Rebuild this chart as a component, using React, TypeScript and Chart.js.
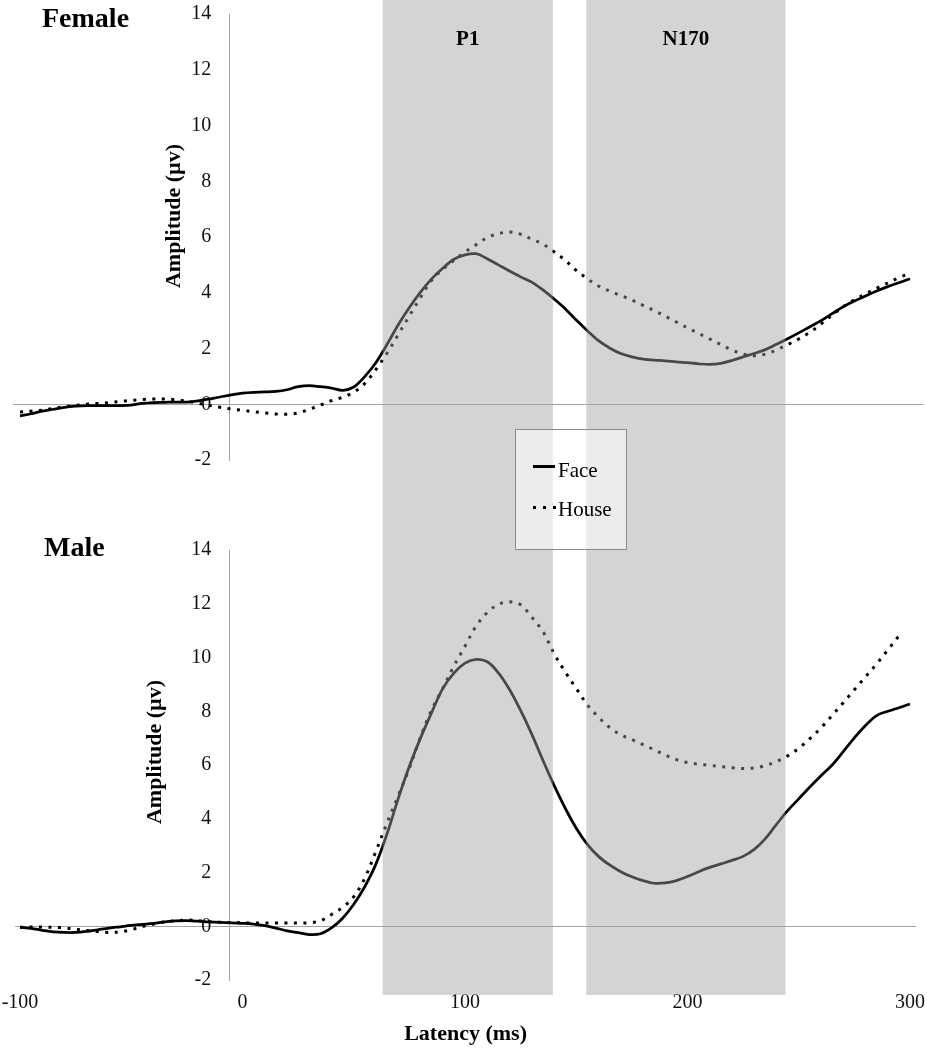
import React, { useEffect, useRef } from "react";
import { Chart, registerables } from "chart.js";

Chart.register(...registerables);

// ---------------- data ----------------
const LATENCY = [
  -100, -95, -90, -85, -80, -75, -70, -65, -60, -55,
  -50, -45, -40, -35, -30, -25, -20, -15, -10, -5,
  0, 5, 10, 15, 20, 25, 30, 35, 40, 45,
  50, 55, 60, 65, 70, 75, 80, 85, 90, 95,
  100, 105, 110, 115, 120, 125, 130, 135, 140, 145,
  150, 155, 160, 165, 170, 175, 180, 185, 190, 195,
  200, 205, 210, 215, 220, 225, 230, 235, 240, 245,
  250, 255, 260, 265, 270, 275, 280, 285, 290, 295,
  300,
];

const FEMALE_FACE = [
  -0.42, -0.34, -0.25, -0.18, -0.11, -0.07, -0.05, -0.05, -0.05, -0.05,
  -0.03, 0.03, 0.06, 0.07, 0.08, 0.08, 0.12, 0.19, 0.26, 0.34,
  0.40, 0.43, 0.44, 0.46, 0.52, 0.63, 0.67, 0.63, 0.58, 0.50,
  0.62, 1.0, 1.5, 2.15, 2.85, 3.47, 4.02, 4.5, 4.88, 5.2,
  5.36, 5.4, 5.22, 5.0, 4.78, 4.57, 4.38, 4.1, 3.78, 3.43,
  3.02, 2.64, 2.28, 2.02, 1.82, 1.7, 1.62, 1.58, 1.56, 1.52,
  1.49, 1.45, 1.43, 1.47, 1.57, 1.7, 1.82, 1.96, 2.15, 2.35,
  2.56, 2.78, 3.0, 3.25, 3.5, 3.7, 3.88, 4.06, 4.22, 4.36,
  4.5,
];

const FEMALE_HOUSE = [
  -0.28, -0.25, -0.21, -0.15, -0.09, -0.04, 0.0, 0.03, 0.06, 0.1,
  0.14, 0.17, 0.19, 0.19, 0.16, 0.11, 0.04, -0.04, -0.11, -0.17,
  -0.22, -0.27, -0.31, -0.35, -0.36, -0.31, -0.18, -0.03, 0.13, 0.25,
  0.43, 0.75, 1.25, 1.84, 2.5, 3.17, 3.83, 4.45, 4.84, 5.16,
  5.46, 5.72, 5.98, 6.12, 6.18, 6.1, 5.92, 5.75, 5.47, 5.17,
  4.8, 4.5, 4.24, 4.06, 3.9, 3.74, 3.55, 3.36, 3.16, 2.95,
  2.74, 2.54, 2.34, 2.14, 1.95, 1.8, 1.74, 1.8, 1.95, 2.14,
  2.34, 2.58, 2.88, 3.2, 3.5, 3.75, 3.96, 4.16, 4.35, 4.54,
  4.7,
];

const MALE_FACE = [
  -0.04, -0.08, -0.15, -0.21, -0.23, -0.23, -0.19, -0.13, -0.07, -0.02,
  0.03, 0.07, 0.11, 0.16, 0.2, 0.21, 0.19, 0.16, 0.14, 0.13,
  0.11, 0.08, 0.02, -0.07, -0.17, -0.24, -0.31, -0.28, -0.06, 0.3,
  0.82, 1.48, 2.32, 3.45, 4.75, 5.95, 7.0, 7.95, 8.84, 9.42,
  9.79, 9.93, 9.84, 9.43, 8.81, 8.03, 7.15, 6.18, 5.25, 4.4,
  3.65, 3.05, 2.6, 2.28, 2.03, 1.84, 1.7, 1.6, 1.61, 1.7,
  1.85, 2.03, 2.19, 2.32, 2.45, 2.6, 2.86, 3.26, 3.79, 4.3,
  4.74, 5.18, 5.6, 6.0, 6.5, 7.01, 7.47, 7.84, 8.0, 8.13,
  8.27,
];

const MALE_HOUSE = [
  -0.04, -0.03, -0.03, -0.04, -0.06, -0.11, -0.16, -0.2, -0.23, -0.21,
  -0.13, -0.01, 0.08, 0.16, 0.2, 0.23, 0.21, 0.17, 0.15, 0.14,
  0.13, 0.12, 0.12, 0.12, 0.12, 0.12, 0.13, 0.2, 0.44, 0.7,
  1.1, 1.8, 2.8, 3.85, 4.86, 5.88, 7.05, 8.05, 8.85, 9.68,
  10.42, 11.17, 11.67, 11.98, 12.07, 11.96, 11.5, 10.97, 10.15, 9.47,
  8.85, 8.24, 7.78, 7.4, 7.12, 6.95, 6.76, 6.57, 6.37, 6.2,
  6.09, 6.03, 5.99, 5.94, 5.9, 5.87, 5.89, 5.98, 6.13, 6.34,
  6.62, 6.98, 7.38, 7.84, 8.32, 8.8, 9.28, 9.76, 10.28, 10.8,
  null,
];

const SERIES_NAMES = ["Face", "House"];
const PANEL_NAMES = ["Female", "Male"];
const X_TICKS = [-100, 0, 100, 200, 300];
const Y_TICKS = [-2, 0, 2, 4, 6, 8, 10, 12, 14];
const BAND_LABELS = ["P1", "N170"];
const BAND_FROM = [63, 154.5];
const BAND_TO = [139.5, 244];
const Y_TITLE = "Amplitude (µv)";
const X_TITLE = "Latency (ms)";
const Y_AXIS_AT = -6; // latency where the vertical axis crosses

// ---------------- styling ----------------
const FONT = '"Liberation Serif", "Times New Roman", Times, serif';
const AXIS_GRAY = "#a3a3a3";
const BAND_FILL = "rgba(160,160,160,0.45)";
const CANVAS_W = 927;
const LABEL_GAP_PX = 18;

Chart.defaults.font.family = FONT;
Chart.defaults.color = "#111";

type Panel = "female" | "male";

function toPoints(values: (number | null)[]) {
  return LATENCY.map((t, i) => ({ x: t, y: values[i] }));
}

function bandsPlugin(panel: Panel) {
  return {
    id: "bands_" + panel,
    afterDatasetsDraw(chart: any) {
      const { ctx, chartArea, scales } = chart;
      const x = scales.x;
      const top = 0;
      const bottom = panel === "female" ? chart.height : chartArea.bottom + 15;
      ctx.save();
      ctx.fillStyle = BAND_FILL;
      for (let i = 0; i < BAND_FROM.length; i++) {
        const x1 = x.getPixelForValue(BAND_FROM[i]);
        const x2 = x.getPixelForValue(BAND_TO[i]);
        ctx.fillRect(x1, top, x2 - x1, bottom - top);
      }
      ctx.restore();
    },
  };
}

function textPlugin(panel: Panel) {
  return {
    id: "text_" + panel,
    afterDraw(chart: any) {
      const { ctx, chartArea, scales } = chart;
      const x = scales.x;
      ctx.save();
      ctx.fillStyle = "#000";
      ctx.font = `bold 28px ${FONT}`;
      ctx.textAlign = "left";
      ctx.textBaseline = "alphabetic";
      if (panel === "female") {
        ctx.fillText(PANEL_NAMES[0], 42, chartArea.top + 13);
        ctx.font = `bold 21px ${FONT}`;
        ctx.textAlign = "center";
        for (let i = 0; i < BAND_LABELS.length; i++) {
          const cx = (x.getPixelForValue(BAND_FROM[i]) + x.getPixelForValue(BAND_TO[i])) / 2;
          ctx.fillText(BAND_LABELS[i], cx, 45);
        }
      } else {
        ctx.fillText(PANEL_NAMES[1], 44, chartArea.top + 6);
      }
      const tx = panel === "female" ? 174 : 155.5;
      const ty = chartArea.top + 202;
      ctx.translate(tx, ty);
      ctx.rotate(-Math.PI / 2);
      ctx.font = `bold 22px ${FONT}`;
      ctx.textAlign = "center";
      ctx.textBaseline = "middle";
      ctx.fillText(Y_TITLE, 0, 0);
      ctx.restore();
    },
  };
}

function makeConfig(panel: Panel): any {
  const isF = panel === "female";
  const face = isF ? FEMALE_FACE : MALE_FACE;
  const house = isF ? FEMALE_HOUSE : MALE_HOUSE;
  const xMin = isF ? -103 : -102.2;
  const xMax = isF ? 306 : 302.7;
  const pad = isF
    ? { top: 14, bottom: 45, left: 13.33, right: 3.65 }
    : { top: 45, bottom: 0, left: 15.1, right: 11.0 };
  const pxPerMs = (CANVAS_W - pad.left - pad.right) / (xMax - xMin);
  const labelAxisAt = Y_AXIS_AT - LABEL_GAP_PX / pxPerMs;

  const yRange = { type: "linear", min: Y_TICKS[0], max: Y_TICKS[Y_TICKS.length - 1] };
  const setYTicks = (axis: any) => {
    axis.ticks = Y_TICKS.map((v) => ({ value: v }));
  };
  const noYPadding = (axis: any) => {
    axis.paddingTop = 0;
    axis.paddingBottom = 0;
  };

  return {
    type: "line",
    data: {
      datasets: [
        {
          label: SERIES_NAMES[0],
          data: toPoints(face),
          borderColor: "#000",
          borderWidth: 2.75,
          pointRadius: 0,
          tension: 0.35,
          fill: false,
          yAxisID: "y",
        },
        {
          label: SERIES_NAMES[1],
          data: toPoints(house),
          borderColor: "#000",
          borderWidth: 3,
          borderDash: [3, 6.5],
          pointRadius: 0,
          tension: 0.35,
          fill: false,
          spanGaps: false,
          yAxisID: "y",
        },
      ],
    },
    options: {
      responsive: false,
      animation: false,
      devicePixelRatio: 1,
      events: [],
      layout: { padding: pad },
      plugins: {
        legend: { display: false },
        tooltip: { enabled: false },
      },
      scales: {
        x: isF
          ? { type: "linear", min: xMin, max: xMax, display: false }
          : {
              type: "linear",
              min: xMin,
              max: xMax,
              position: "bottom",
              afterBuildTicks: (axis: any) => {
                axis.ticks = X_TICKS.map((v) => ({ value: v }));
              },
              afterFit: (axis: any) => {
                axis.height = 70;
                axis.paddingLeft = 0;
                axis.paddingRight = 0;
              },
              grid: { display: false, drawTicks: false },
              border: { display: false },
              ticks: {
                font: { family: FONT, size: 20 },
                color: "#111",
                padding: 11,
                maxRotation: 0,
                autoSkip: false,
              },
              title: {
                display: true,
                text: X_TITLE,
                font: { family: FONT, size: 22, weight: "bold" },
                color: "#000",
                padding: { top: 0, bottom: 2 },
              },
            },
        // vertical axis line + zero line
        y: {
          ...yRange,
          position: { x: Y_AXIS_AT },
          afterBuildTicks: setYTicks,
          afterFit: noYPadding,
          ticks: { display: false },
          grid: {
            drawTicks: false,
            lineWidth: 1,
            color: (c: any) => (c.tick && c.tick.value === 0 ? AXIS_GRAY : "rgba(0,0,0,0)"),
          },
          border: { display: true, color: AXIS_GRAY, width: 1 },
        },
        // tick labels, set off to the left of the axis line
        yLabels: {
          ...yRange,
          axis: "y",
          position: { x: labelAxisAt },
          afterBuildTicks: setYTicks,
          afterFit: noYPadding,
          ticks: {
            font: { family: FONT, size: 20 },
            color: "#111",
            padding: 0,
          },
          grid: { display: false, drawTicks: false },
          border: { display: false },
        },
      },
    },
    plugins: [bandsPlugin(panel), textPlugin(panel)],
  };
}

function Legend() {
  return (
    <div
      style={{
        position: "absolute",
        left: 515,
        top: 429,
        width: 112,
        height: 121,
        boxSizing: "border-box",
        border: "1px solid #8a8a8a",
        background: "rgba(255,255,255,0.55)",
        fontFamily: FONT,
        fontSize: 21,
        lineHeight: "21px",
        color: "#000",
        zIndex: 2,
      }}
    >
      <div style={{ position: "absolute", left: 17, top: 35, width: 22, height: 3, background: "#000" }} />
      <span style={{ position: "absolute", left: 42, top: 30, whiteSpace: "nowrap" }}>{SERIES_NAMES[0]}</span>
      {[0, 1, 2].map((k) => (
        <div
          key={k}
          style={{ position: "absolute", left: 17 + k * 10, top: 76, width: 3, height: 3, background: "#000" }}
        />
      ))}
      <span style={{ position: "absolute", left: 42, top: 69, whiteSpace: "nowrap" }}>{SERIES_NAMES[1]}</span>
    </div>
  );
}

export default function App() {
  const topRef = useRef<HTMLCanvasElement>(null);
  const botRef = useRef<HTMLCanvasElement>(null);

  useEffect(() => {
    const c1 = new Chart(topRef.current as HTMLCanvasElement, makeConfig("female"));
    const c2 = new Chart(botRef.current as HTMLCanvasElement, makeConfig("male"));
    return () => {
      c1.destroy();
      c2.destroy();
    };
  }, []);

  return (
    <div
      style={{
        position: "absolute",
        left: 0,
        top: 0,
        width: 927,
        height: 1050,
        background: "#fff",
        overflow: "hidden",
      }}
    >
      <canvas
        ref={topRef}
        width={927}
        height={505}
        style={{ position: "absolute", left: 0, top: 0, width: 927, height: 505 }}
      />
      <canvas
        ref={botRef}
        width={927}
        height={545}
        style={{ position: "absolute", left: 0, top: 505, width: 927, height: 545 }}
      />
      <Legend />
    </div>
  );
}
